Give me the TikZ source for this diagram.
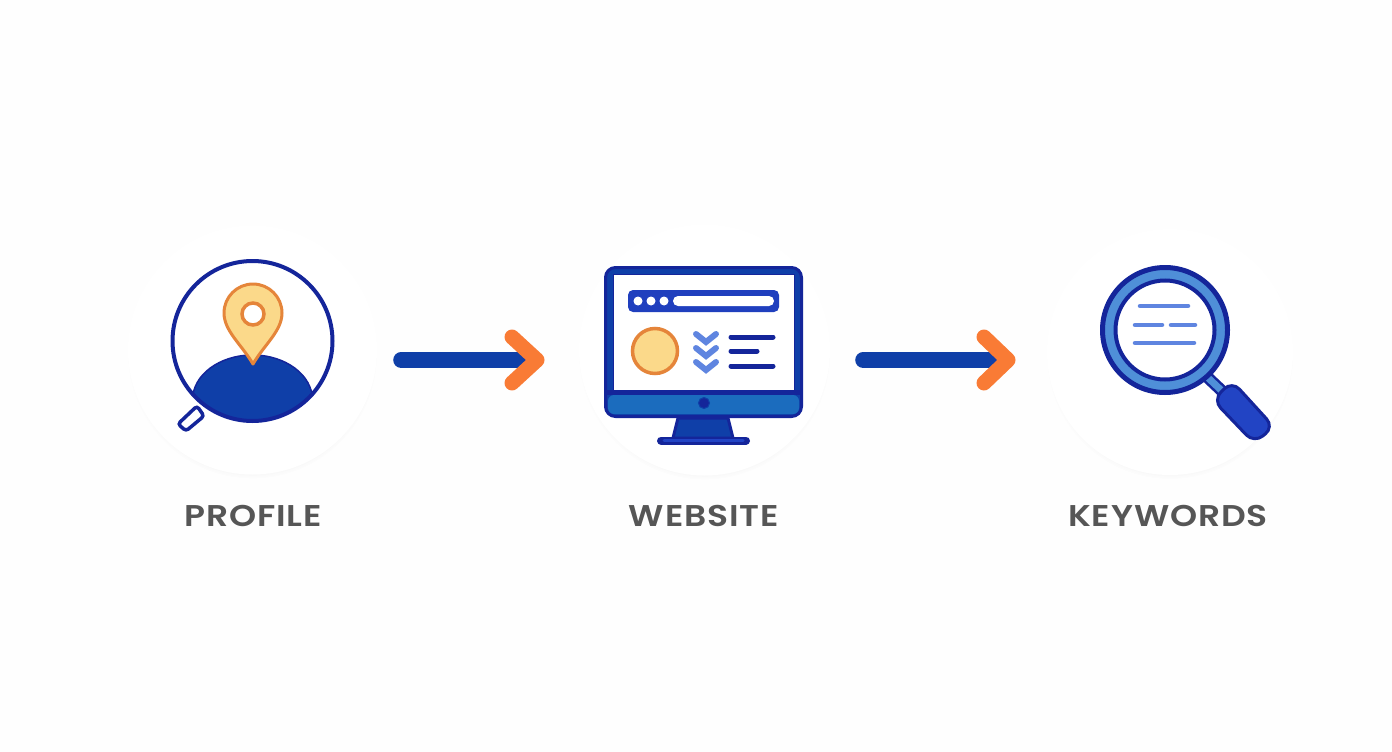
\documentclass[tikz,border=0pt]{standalone}
\usepackage{fontspec}
\setmainfont[FakeStretch=1.15]{Poppins SemiBold}
\usetikzlibrary{shadows}
\definecolor{pagecol}{HTML}{FEFEFE}
\definecolor{navy}{HTML}{14259A}
\definecolor{royal}{HTML}{0F3FA8}
\definecolor{bright}{HTML}{2244C4}
\definecolor{midblue}{HTML}{1B6CBE}
\definecolor{skyring}{HTML}{4F8FD8}
\definecolor{softblue}{HTML}{5F85E0}
\definecolor{sand}{HTML}{FBD98A}
\definecolor{rust}{HTML}{E5853A}
\definecolor{tangerine}{HTML}{F97B35}
\definecolor{slate}{HTML}{565656}
\tikzset{
  badge/.style={circle,fill=white,minimum size=#1,inner sep=0pt,
    circular drop shadow={shadow xshift=0pt,shadow yshift=-4pt,shadow scale=1,opacity=.12,fill=black!60}},
  caption/.style={text=slate,font=\fontsize{30}{32}\selectfont\addfontfeature{LetterSpace=3}},
  flowbar/.style={royal,line width=16pt,line cap=round},
  flowhead/.style={tangerine,line width=15pt,line cap=round,line join=round},
  textrule/.style={navy,line width=5pt,line cap=round},
  lensrule/.style={softblue,line width=4.5pt,line cap=round},
  chevron/.style={softblue,line width=6pt,line cap=round,line join=miter}
}
\begin{document}
\begin{tikzpicture}[x=1pt,y=-1pt]
  \fill[pagecol] (0,0) rectangle (1392,752);
  \useasboundingbox (0,0) rectangle (1392,752);
  % badges and their captions
  \node[badge=249pt] (profile) at (252.5,350) {};
  \node[badge=251pt] (website) at (704.5,350) {};
  \node[badge=246pt] (keywords) at (1170,352) {};
  \node[caption] (profiletext) at (253,516) {PROFILE};
  \node[caption] (websitetext) at (704,516) {WEBSITE};
  \node[caption] (keywordstext) at (1168,516) {KEYWORDS};
  % arrows between the badges
  \draw[flowbar] ([shift={(24,10)}]profile.east) -- ([shift={(-52,10)}]website.west);
  \draw[flowhead] (512,337)--(537,360)--(512,383);
  \draw[flowbar] ([shift={(33,10)}]website.east) -- ([shift={(-47,8)}]keywords.west);
  \draw[flowhead] (984,337)--(1008,360)--(984,383);
  % profile icon
  \begin{scope}
    \clip (252.5,341) circle (81);
    \fill[royal,draw=navy,line width=1.5pt] (252.5,400) ellipse (60 and 45);
  \end{scope}
  \draw[navy,line width=4pt] (252.5,341) circle (80);
  \filldraw[fill=white,draw=navy,line width=3.5pt,rounded corners=3pt]
    (197,406)--(204,416)--(186,431)--(178,424)--cycle;
  \filldraw[fill=sand,draw=rust,line width=3pt,line join=round] (253,364)
    .. controls (242,345) and (224,331) .. (224,313)
    .. controls (224,297) and (237,284) .. (253,284)
    .. controls (269,284) and (282,297) .. (282,313)
    .. controls (282,331) and (264,345) .. (253,364) -- cycle;
  \filldraw[fill=white,draw=rust,line width=3.5pt] (253,314) circle (11);
  % website icon
  \filldraw[fill=royal,draw=navy,line width=3pt] (678,418)--(728,418)--(733,438)--(673,438)--cycle;
  \draw[navy,line width=8pt,line cap=round] (661,440.5)--(746,440.5);
  \draw[bright,line width=3pt,line cap=round] (664,440.5)--(743,440.5);
  \filldraw[fill=royal,draw=navy,line width=3pt,rounded corners=10pt] (605.5,267.5) rectangle (801.5,416.5);
  \filldraw[fill=white,draw=navy,line width=1pt] (613,274) rectangle (794,390);
  \fill[navy] (607,390) rectangle (800,395);
  \fill[midblue,rounded corners=6pt] (608,395) -- (799,395) -- (799,414) -- (608,414) -- cycle;
  \filldraw[fill=navy,draw=royal,line width=1pt] (704,403) circle (5.5);
  \fill[bright!85!navy,rounded corners=5pt] (628,290) rectangle (779,312);
  \fill[white,rounded corners=5pt] (673,296) rectangle (774,306);
  \foreach \xdot in {638,651,664}
    \fill[white] (\xdot,301) circle (4.5);
  \filldraw[fill=sand,draw=rust,line width=3.5pt] (655,351) circle (22.5);
  \foreach \ychev in {0,14,28}
    \draw[chevron] (696,{334+\ychev})--(706,{342+\ychev})--(716,{334+\ychev});
  \draw[textrule] (731,337)--(773,337);
  \draw[textrule] (731,351)--(757,351);
  \draw[textrule] (731,366)--(773,366);
  % keywords icon
  \draw[navy,line width=12pt] (1204,374)--(1222,391);
  \draw[skyring,line width=7pt] (1204,374)--(1222,391);
  \filldraw[fill=bright,draw=navy,line width=3pt,rounded corners=11pt]
    (1232,381)--(1274,427)--(1254,443)--(1213,400)--cycle;
  \filldraw[fill=skyring,draw=navy,line width=5pt] (1165,330) circle (62.5);
  \filldraw[fill=white,draw=navy,line width=4pt] (1165,330) circle (49.5);
  \draw[lensrule] (1140,306)--(1188,306);
  \draw[lensrule] (1135,325)--(1162,325);
  \draw[lensrule] (1171,325)--(1195,325);
  \draw[lensrule] (1135,343)--(1194,343);
\end{tikzpicture}
\end{document}
